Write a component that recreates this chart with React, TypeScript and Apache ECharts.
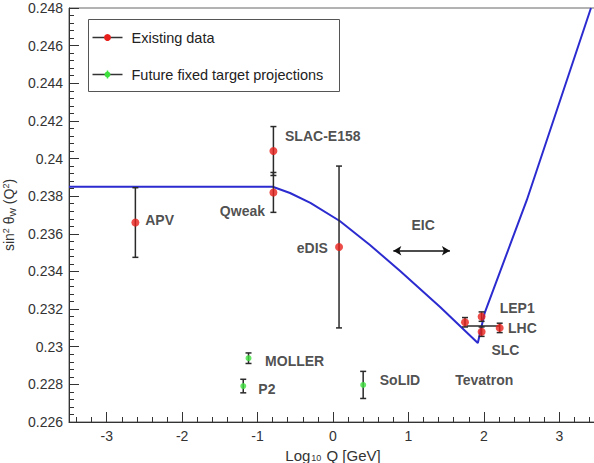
import React, { useEffect, useRef } from "react";
import * as echarts from "echarts";

// ---- axis ----
const xMajorTicks = [-3, -2, -1, 0, 1, 2, 3];
const xMinorTicks = [
  -3.4, -3.2, -2.8, -2.6, -2.4, -2.2, -1.8, -1.6, -1.4, -1.2, -0.8, -0.6, -0.4, -0.2,
  0.2, 0.4, 0.6, 0.8, 1.2, 1.4, 1.6, 1.8, 2.2, 2.4, 2.6, 2.8, 3.2, 3.4,
];

// ---- running curve ----
const curveX = [-3.5, -0.8, -0.57, -0.3, 0.09, 0.49, 0.89, 1.42, 1.92, 2.01, 2.57, 3.42];
const curveY = [0.2385, 0.2385, 0.23817, 0.23764, 0.23668, 0.23541, 0.23402, 0.23211, 0.2302, 0.23179, 0.2378, 0.248];

// ---- existing data ----
const existingNames = ["APV", "SLAC-E158", "Qweak", "eDIS", "Tevatron", "LEP1", "SLC", "LHC"];
const existingX = [-2.62, -0.79, -0.79, 0.08, 1.75, 1.97, 1.97, 2.21];
const existingY = [0.2366, 0.2404, 0.2382, 0.2353, 0.2313, 0.2316, 0.2308, 0.231];
const existingErr = [0.00185, 0.0013, 0.00106, 0.0043, 0.00025, 0.00025, 0.00025, 0.00025];

// ---- future projections ----
const futureNames = ["MOLLER", "P2", "SoLID"];
const futureX = [-1.12, -1.19, 0.4];
const futureY = [0.22939, 0.22791, 0.22797];
const futureErr = [0.00028, 0.00036, 0.00072];

// ---- horizontal bar in Z-pole cluster ----
const hBarY = [0.2311];
const hBarX1 = [1.77];
const hBarX2 = [2.21];

// ---- EIC range arrow ----
const eicX = [0.8, 1.55];
const eicY = 0.2351;

// ---- annotation labels (left edge, middle) ----
const labelText = ["APV", "SLAC-E158", "Qweak", "eDIS", "EIC", "LEP1", "LHC", "SLC", "Tevatron", "MOLLER", "P2", "SoLID"];
const labelX = [-2.49, -0.636, -1.5, -0.48, 1.04, 2.21, 2.32, 2.1, 1.62, -0.9, -0.99, 0.62];
const labelY = [0.23673, 0.2412, 0.23721, 0.23523, 0.23647, 0.23204, 0.23098, 0.22983, 0.22823, 0.22926, 0.22775, 0.22823];

const legendItems = ["Existing data", "Future fixed target projections"];

const FONT = "Liberation Sans, Arial, Helvetica, sans-serif";
const AX = "#333";

export default function App() {
  const ref = useRef<HTMLDivElement>(null);
  useEffect(() => {
    if (!ref.current) return;
    const chart = echarts.init(ref.current, null, { renderer: "svg" });

    const errData = [
      ...existingX.map((x, i) => [x, existingY[i] - existingErr[i], existingY[i] + existingErr[i]]),
      ...futureX.map((x, i) => [x, futureY[i] - futureErr[i], futureY[i] + futureErr[i]]),
    ];

    const errRender = (params: any, api: any) => {
      const x = api.value(0);
      const p1 = api.coord([x, api.value(1)]);
      const p2 = api.coord([x, api.value(2)]);
      const c = 3;
      const st = { stroke: "#2a2a2a", lineWidth: 1.5 };
      return {
        type: "group",
        children: [
          { type: "line", shape: { x1: p1[0], y1: p1[1], x2: p2[0], y2: p2[1] }, style: st },
          { type: "line", shape: { x1: p1[0] - c, y1: p1[1], x2: p1[0] + c, y2: p1[1] }, style: st },
          { type: "line", shape: { x1: p2[0] - c, y1: p2[1], x2: p2[0] + c, y2: p2[1] }, style: st },
        ],
      };
    };

    const hRender = (params: any, api: any) => {
      const y = api.value(2);
      const p1 = api.coord([api.value(0), y]);
      const p2 = api.coord([api.value(1), y]);
      return {
        type: "line",
        shape: { x1: p1[0], y1: p1[1], x2: p2[0], y2: p2[1] },
        style: { stroke: "#2a2a2a", lineWidth: 1.5 },
      };
    };

    const option: any = {
      animation: false,
      backgroundColor: "#ffffff",
      grid: {
        left: 69,
        top: 8,
        width: 528,
        height: 414,
        show: true,
        borderColor: "#666",
        borderWidth: 1,
        backgroundColor: "transparent",
        containLabel: false,
        outerBoundsMode: "none",
      },
      xAxis: [
        {
          type: "value",
          min: -3.5,
          max: 3.5,
          name: "Log{sub|10} Q [GeV]",
          nameLocation: "middle",
          nameGap: 20,
          nameTextStyle: {
            fontFamily: FONT,
            fontSize: 15,
            color: AX,
            rich: { sub: { fontSize: 9, verticalAlign: "bottom", padding: [5, 1, 0, 1], color: AX, fontFamily: FONT } },
          },
          axisLine: { show: true, onZero: false, lineStyle: { color: AX, width: 1 } },
          axisTick: { show: true, inside: true, length: 10, customValues: xMajorTicks, lineStyle: { color: AX } },
          axisLabel: { show: true, customValues: xMajorTicks, fontFamily: FONT, fontSize: 14, color: AX, margin: 7 },
          splitLine: { show: false },
        },
        {
          type: "value",
          min: -3.5,
          max: 3.5,
          position: "bottom",
          axisLine: { show: false, onZero: false },
          axisTick: { show: true, inside: true, length: 5, customValues: xMinorTicks, lineStyle: { color: AX } },
          axisLabel: { show: false },
          splitLine: { show: false },
        },
      ],
      yAxis: {
        type: "value",
        min: 0.226,
        max: 0.248,
        interval: 0.002,
        name: "{a|sin}{sup|2}{a| θ}{sub|W}{a| (Q}{sup|2}{a|)}",
        nameLocation: "middle",
        nameRotate: 90,
        nameGap: 44,
        nameTextStyle: {
          rich: {
            a: { fontFamily: FONT, fontSize: 14, color: AX },
            sup: { fontFamily: FONT, fontSize: 9, color: AX, verticalAlign: "top", padding: [0, 0, 7, 0] },
            sub: { fontFamily: FONT, fontSize: 9, color: AX, verticalAlign: "bottom", padding: [7, 0, 0, 0] },
          },
        },
        axisLine: { show: true, onZero: false, lineStyle: { color: AX, width: 1 } },
        axisTick: { show: true, inside: true, length: 10, lineStyle: { color: AX } },
        minorTick: { show: true, splitNumber: 5, length: 5, lineStyle: { color: AX } },
        axisLabel: {
          fontFamily: FONT,
          fontSize: 14,
          color: AX,
          margin: 6,
          formatter: (v: number) => String(+v.toFixed(3)),
        },
        splitLine: { show: false },
        minorSplitLine: { show: false },
      },
      series: [
        {
          type: "line",
          name: "curve",
          data: curveX.map((x, i) => [x, curveY[i]]),
          showSymbol: false,
          symbol: "none",
          lineStyle: { color: "#2b2bd0", width: 2 },
          clip: true,
          z: 2,
          markLine: {
            silent: true,
            symbol: ["arrow", "arrow"],
            symbolSize: [7, 8],
            label: { show: false },
            lineStyle: { color: "#111", width: 1.5, type: "solid" },
            data: [[{ coord: [eicX[0], eicY] }, { coord: [eicX[1], eicY] }]],
          },
        },
        {
          type: "custom",
          name: "errors",
          renderItem: errRender,
          data: errData,
          encode: { x: 0, y: [1, 2] },
          z: 3,
        },
        {
          type: "custom",
          name: "hbar",
          renderItem: hRender,
          data: hBarY.map((y, i) => [hBarX1[i], hBarX2[i], y]),
          encode: { x: [0, 1], y: 2 },
          z: 3,
        },
        {
          type: "scatter",
          name: legendItems[0],
          data: existingX.map((x, i) => ({ name: existingNames[i], value: [x, existingY[i]] })),
          symbol: "circle",
          symbolSize: 8,
          itemStyle: { color: "#e8201c" },
          z: 4,
        },
        {
          type: "scatter",
          name: legendItems[1],
          data: futureX.map((x, i) => ({ name: futureNames[i], value: [x, futureY[i]] })),
          symbol: "circle",
          symbolSize: 6,
          itemStyle: { color: "#3ee03e" },
          z: 4,
        },
        {
          type: "scatter",
          name: "labels",
          data: labelX.map((x, i) => [x, labelY[i], labelText[i]]),
          symbolSize: 0,
          silent: true,
          label: {
            show: true,
            position: "right",
            distance: 0,
            formatter: (p: any) => p.value[2],
            fontFamily: FONT,
            fontSize: 14,
            fontWeight: "bold",
            color: "#222",
          },
          z: 5,
        },
      ],
      graphic: [
        {
          type: "group",
          left: 88,
          top: 19,
          z: 10,
          children: [
            { type: "rect", shape: { x: 0, y: 0, width: 251, height: 72 }, style: { fill: "#fff", stroke: "#555", lineWidth: 1 } },
            { type: "line", shape: { x1: 4, y1: 18, x2: 34, y2: 18 }, style: { stroke: "#333", lineWidth: 1.5 } },
            { type: "circle", shape: { cx: 19, cy: 18, r: 3.5 }, style: { fill: "#e8201c" } },
            { type: "text", x: 43, y: 18, style: { text: legendItems[0], fontFamily: FONT, fontSize: 14.5, fill: "#222", verticalAlign: "middle" } },
            { type: "line", shape: { x1: 4, y1: 55, x2: 34, y2: 55 }, style: { stroke: "#333", lineWidth: 1.5 } },
            { type: "line", shape: { x1: 19, y1: 51, x2: 19, y2: 59 }, style: { stroke: "#3ee03e", lineWidth: 1.5 } },
            { type: "circle", shape: { cx: 19, cy: 55, r: 3 }, style: { fill: "#3ee03e" } },
            { type: "text", x: 43, y: 55, style: { text: legendItems[1], fontFamily: FONT, fontSize: 14.5, fill: "#222", verticalAlign: "middle" } },
          ],
        },
      ],
    };

    chart.setOption(option);
    return () => chart.dispose();
  }, []);

  return <div ref={ref} style={{ position: "fixed", left: 0, top: 0, width: 594, height: 463 }} />;
}
